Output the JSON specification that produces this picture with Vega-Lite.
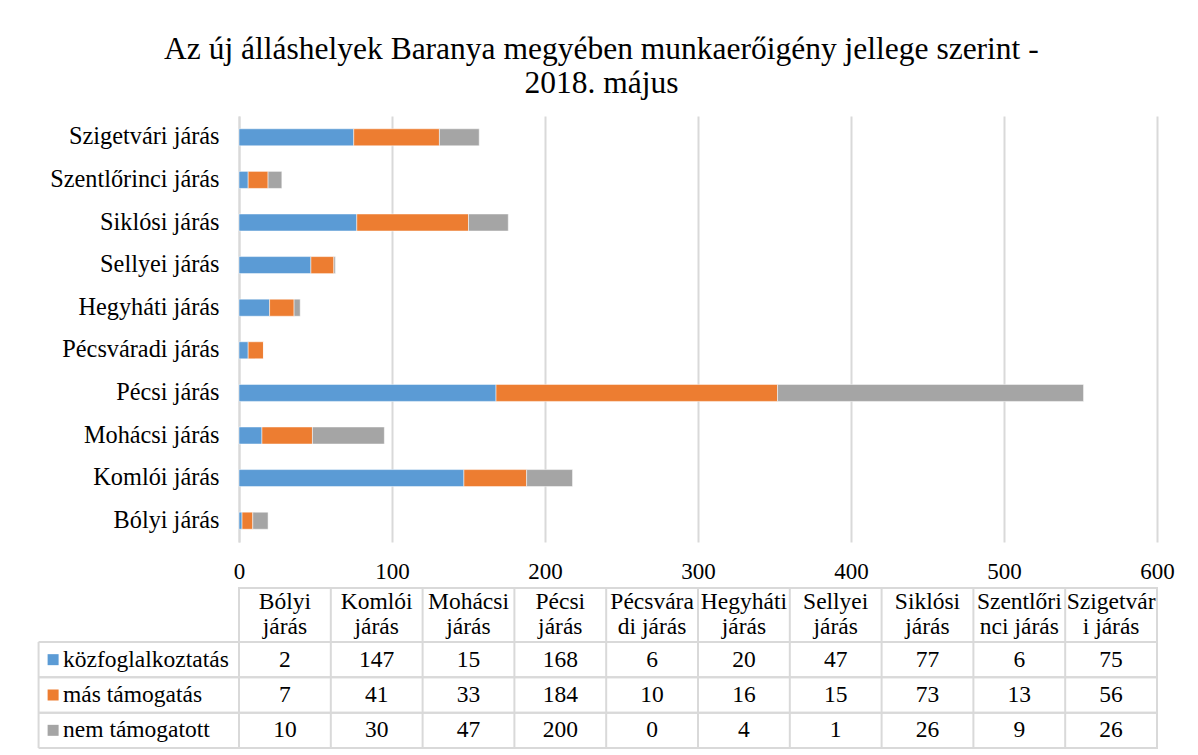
{
  "$schema": "https://vega.github.io/schema/vega-lite/v6.json",
  "background": "white",
  "padding": {"left": 36, "top": 34, "right": 5, "bottom": 5},
  "autosize": {"type": "pad"},
  "config": {
    "font": "Liberation Serif",
    "view": {"stroke": null},
    "axis": {"labelColor": "#000000", "labelFont": "Liberation Serif"}
  },
  "title": {
    "text": ["Az új álláshelyek Baranya megyében munkaerőigény jellege szerint -", "2018. május"],
    "font": "Liberation Serif",
    "fontSize": 31.5,
    "fontWeight": "normal",
    "lineHeight": 33.5,
    "color": "#000000",
    "anchor": "middle",
    "offset": 17,
    "dx": -4
  },
  "datasets": {
    "long": [
      {"d": "Bólyi járás", "s": "közfoglalkoztatás", "v": 2},
      {"d": "Bólyi járás", "s": "más támogatás", "v": 7},
      {"d": "Bólyi járás", "s": "nem támogatott", "v": 10},
      {"d": "Komlói járás", "s": "közfoglalkoztatás", "v": 147},
      {"d": "Komlói járás", "s": "más támogatás", "v": 41},
      {"d": "Komlói járás", "s": "nem támogatott", "v": 30},
      {"d": "Mohácsi járás", "s": "közfoglalkoztatás", "v": 15},
      {"d": "Mohácsi járás", "s": "más támogatás", "v": 33},
      {"d": "Mohácsi járás", "s": "nem támogatott", "v": 47},
      {"d": "Pécsi járás", "s": "közfoglalkoztatás", "v": 168},
      {"d": "Pécsi járás", "s": "más támogatás", "v": 184},
      {"d": "Pécsi járás", "s": "nem támogatott", "v": 200},
      {"d": "Pécsváradi járás", "s": "közfoglalkoztatás", "v": 6},
      {"d": "Pécsváradi járás", "s": "más támogatás", "v": 10},
      {"d": "Pécsváradi járás", "s": "nem támogatott", "v": 0},
      {"d": "Hegyháti járás", "s": "közfoglalkoztatás", "v": 20},
      {"d": "Hegyháti járás", "s": "más támogatás", "v": 16},
      {"d": "Hegyháti járás", "s": "nem támogatott", "v": 4},
      {"d": "Sellyei járás", "s": "közfoglalkoztatás", "v": 47},
      {"d": "Sellyei járás", "s": "más támogatás", "v": 15},
      {"d": "Sellyei járás", "s": "nem támogatott", "v": 1},
      {"d": "Siklósi járás", "s": "közfoglalkoztatás", "v": 77},
      {"d": "Siklósi járás", "s": "más támogatás", "v": 73},
      {"d": "Siklósi járás", "s": "nem támogatott", "v": 26},
      {"d": "Szentlőrinci járás", "s": "közfoglalkoztatás", "v": 6},
      {"d": "Szentlőrinci járás", "s": "más támogatás", "v": 13},
      {"d": "Szentlőrinci járás", "s": "nem támogatott", "v": 9},
      {"d": "Szigetvári járás", "s": "közfoglalkoztatás", "v": 75},
      {"d": "Szigetvári járás", "s": "más támogatás", "v": 56},
      {"d": "Szigetvári járás", "s": "nem támogatott", "v": 26}
    ],
    "dist": [
      {"d": "Bólyi járás", "h": "Bólyi\njárás"},
      {"d": "Komlói járás", "h": "Komlói\njárás"},
      {"d": "Mohácsi járás", "h": "Mohácsi\njárás"},
      {"d": "Pécsi járás", "h": "Pécsi\njárás"},
      {"d": "Pécsváradi járás", "h": "Pécsvára\ndi járás"},
      {"d": "Hegyháti járás", "h": "Hegyháti\njárás"},
      {"d": "Sellyei járás", "h": "Sellyei\njárás"},
      {"d": "Siklósi járás", "h": "Siklósi\njárás"},
      {"d": "Szentlőrinci járás", "h": "Szentlőri\nnci járás"},
      {"d": "Szigetvári járás", "h": "Szigetvár\ni járás"}
    ],
    "series": [
      {"s": "közfoglalkoztatás"},
      {"s": "más támogatás"},
      {"s": "nem támogatott"}
    ],
    "edge": [{"e": "left"}]
  },
  "spacing": 46,
  "bounds": "flush",
  "vconcat": [
    {
      "width": 918,
      "height": 426,
      "view": {"stroke": null},
      "data": {"name": "long"},
      "mark": {"type": "bar", "stroke": "#ffffff", "strokeWidth": 0.5},
      "encoding": {
        "y": {
          "field": "d", "type": "nominal",
          "sort": ["Szigetvári járás", "Szentlőrinci járás", "Siklósi járás", "Sellyei járás", "Hegyháti járás", "Pécsváradi járás", "Pécsi járás", "Mohácsi járás", "Komlói járás", "Bólyi járás"],
          "scale": {"paddingInner": 0.6, "paddingOuter": 0.3},
          "axis": {"title": null, "ticks": false, "domainColor": "#d9d9d9", "domainWidth": 2, "labelFontSize": 24.3, "labelPadding": 20}
        },
        "x": {
          "field": "v", "type": "quantitative", "stack": "zero",
          "scale": {"domain": [0, 600], "nice": false},
          "axis": {"title": null, "values": [0, 100, 200, 300, 400, 500, 600], "grid": true, "gridColor": "#d9d9d9", "gridWidth": 2, "domain": false, "ticks": false, "labelFontSize": 23, "labelPadding": 18, "labelFlush": false}
        },
        "color": {
          "field": "s", "type": "nominal",
          "scale": {"domain": ["közfoglalkoztatás", "más támogatás", "nem támogatott"], "range": ["#5B9BD5", "#ED7D31", "#A5A5A5"]},
          "legend": null
        },
        "order": {"field": "s", "sort": "ascending"}
      }
    },
    {
      "spacing": 0,
      "bounds": "flush",
      "vconcat": [
        {
          "width": 918,
          "height": 54,
          "view": {"stroke": "#d9d9d9", "strokeWidth": 2},
          "data": {"name": "dist"},
          "layer": [
            {
              "mark": {"type": "rule", "color": "#d9d9d9", "strokeWidth": 2},
              "encoding": {
                "x": {"field": "d", "type": "nominal", "bandPosition": 0,
                  "sort": ["Bólyi járás", "Komlói járás", "Mohácsi járás", "Pécsi járás", "Pécsváradi járás", "Hegyháti járás", "Sellyei járás", "Siklósi járás", "Szentlőrinci járás", "Szigetvári járás"],
                  "scale": {"type": "band", "paddingInner": 0, "paddingOuter": 0}, "axis": null}
              }
            },
            {
              "mark": {"type": "text", "lineBreak": "\n", "lineHeight": 24.5, "fontSize": 23.5, "color": "#000000", "align": "center", "baseline": "middle", "dy": -13},
              "encoding": {
                "x": {"field": "d", "type": "nominal",
                  "sort": ["Bólyi járás", "Komlói járás", "Mohácsi járás", "Pécsi járás", "Pécsváradi járás", "Hegyháti járás", "Sellyei járás", "Siklósi járás", "Szentlőrinci járás", "Szigetvári járás"],
                  "scale": {"type": "band", "paddingInner": 0, "paddingOuter": 0}, "axis": null},
                "text": {"field": "h", "type": "nominal"}
              }
            }
          ]
        },
        {
          "width": 918,
          "height": 106,
          "view": {"stroke": "#d9d9d9", "strokeWidth": 2},
          "layer": [
            {
              "data": {"name": "long"},
              "mark": {"type": "text", "fontSize": 23.5, "color": "#000000", "align": "center", "baseline": "middle"},
              "encoding": {
                "x": {"field": "d", "type": "nominal",
                  "sort": ["Bólyi járás", "Komlói járás", "Mohácsi járás", "Pécsi járás", "Pécsváradi járás", "Hegyháti járás", "Sellyei járás", "Siklósi járás", "Szentlőrinci járás", "Szigetvári járás"],
                  "scale": {"type": "band", "paddingInner": 0, "paddingOuter": 0}, "axis": null},
                "y": {"field": "s", "type": "nominal", "sort": ["közfoglalkoztatás", "más támogatás", "nem támogatott"],
                  "scale": {"type": "band", "paddingInner": 0, "paddingOuter": 0}, "axis": null},
                "text": {"field": "v", "type": "quantitative"}
              }
            },
            {
              "data": {"name": "dist"},
              "mark": {"type": "rule", "color": "#d9d9d9", "strokeWidth": 2},
              "encoding": {
                "x": {"field": "d", "type": "nominal", "bandPosition": 0,
                  "sort": ["Bólyi járás", "Komlói járás", "Mohácsi járás", "Pécsi járás", "Pécsváradi járás", "Hegyháti járás", "Sellyei járás", "Siklósi járás", "Szentlőrinci járás", "Szigetvári járás"],
                  "scale": {"type": "band", "paddingInner": 0, "paddingOuter": 0}, "axis": null}
              }
            },
            {
              "data": {"name": "series"},
              "mark": {"type": "rule", "color": "#d9d9d9", "strokeWidth": 2},
              "encoding": {
                "y": {"field": "s", "type": "nominal", "bandPosition": 0, "sort": ["közfoglalkoztatás", "más támogatás", "nem támogatott"],
                  "scale": {"type": "band", "paddingInner": 0, "paddingOuter": 0}, "axis": null},
                "x": {"datum": -131, "type": "quantitative", "scale": {"domain": [0, 600], "nice": false}, "axis": null},
                "x2": {"datum": 600}
              }
            },
            {
              "data": {"name": "series"},
              "mark": {"type": "rule", "color": "#d9d9d9", "strokeWidth": 2},
              "encoding": {
                "y": {"field": "s", "type": "nominal", "bandPosition": 1, "sort": ["közfoglalkoztatás", "más támogatás", "nem támogatott"],
                  "scale": {"type": "band", "paddingInner": 0, "paddingOuter": 0}, "axis": null},
                "x": {"datum": -131, "type": "quantitative", "scale": {"domain": [0, 600], "nice": false}, "axis": null},
                "x2": {"datum": 600}
              }
            },
            {
              "data": {"name": "edge"},
              "mark": {"type": "rule", "color": "#d9d9d9", "strokeWidth": 2},
              "encoding": {
                "x": {"datum": -131, "type": "quantitative", "scale": {"domain": [0, 600], "nice": false}, "axis": null}
              }
            },
            {
              "data": {"name": "series"},
              "mark": {"type": "square", "size": 121, "filled": true, "opacity": 1},
              "encoding": {
                "x": {"datum": -121.5, "type": "quantitative", "scale": {"domain": [0, 600], "nice": false}, "axis": null},
                "y": {"field": "s", "type": "nominal", "sort": ["közfoglalkoztatás", "más támogatás", "nem támogatott"],
                  "scale": {"type": "band", "paddingInner": 0, "paddingOuter": 0}, "axis": null},
                "color": {"field": "s", "type": "nominal",
                  "scale": {"domain": ["közfoglalkoztatás", "más támogatás", "nem támogatott"], "range": ["#5B9BD5", "#ED7D31", "#A5A5A5"]},
                  "legend": null}
              }
            },
            {
              "data": {"name": "series"},
              "mark": {"type": "text", "fontSize": 23.5, "color": "#000000", "align": "left", "baseline": "middle"},
              "encoding": {
                "x": {"datum": -115, "type": "quantitative", "scale": {"domain": [0, 600], "nice": false}, "axis": null},
                "y": {"field": "s", "type": "nominal", "sort": ["közfoglalkoztatás", "más támogatás", "nem támogatott"],
                  "scale": {"type": "band", "paddingInner": 0, "paddingOuter": 0}, "axis": null},
                "text": {"field": "s", "type": "nominal"}
              }
            }
          ],
          "resolve": {"scale": {"x": "independent"}}
        }
      ]
    }
  ]
}
